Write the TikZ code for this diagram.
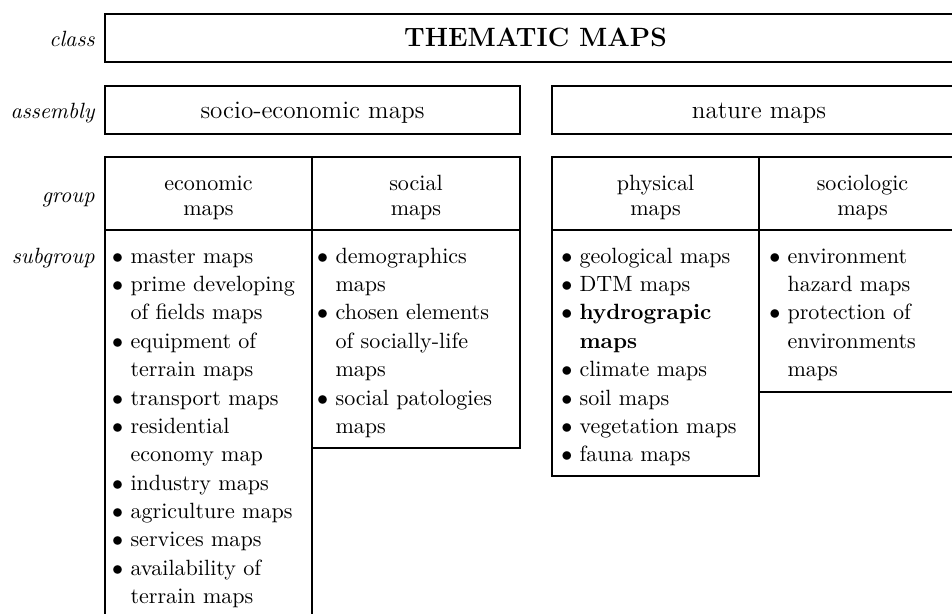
\documentclass[tikz,border=0pt]{standalone}
\usepackage{graphicx}
\tikzset{
  box/.style={draw, line width=0.8pt, rectangle, inner sep=0pt, outer sep=0pt, anchor=north west},
  wh/.style 2 args={minimum width={#1*0.4533pt}, minimum height={#2*0.4533pt}},
  lbl/.style={anchor=base east, inner sep=0pt, font=\itshape},
  ttl/.style={anchor=base, inner sep=0pt, font=\large\bfseries},
  asm/.style={anchor=base, inner sep=0pt, font=\fontsize{11.4}{13}\selectfont},
  grp/.style={anchor=base, inner sep=0pt, font=\fontsize{10}{11.3}\selectfont},
  lst/.style={anchor=base west, inner sep=0pt, font=\fontsize{10}{12.85}\selectfont},
}
\newcommand\glines[1]{\begin{tabular}[t]{@{}c@{}}#1\end{tabular}}
\newcommand\blist[1]{\begin{tabular}[t]{@{}l@{\hspace{3.3pt}}l@{}}#1\end{tabular}}
\newcommand\bu{$\bullet$}
\begin{document}
\begin{tikzpicture}[x=0.4533pt,y=-0.4533pt]
\useasboundingbox (0,0) rectangle (952,614);
\clip (0,0) rectangle (952,614);
% boxes
\node[box, wh={861}{48}] (classbox) at (105,14) {};
\node[box, wh={415}{48}] (socio) at (105,86) {};
\node[box, wh={414}{48}] (nature) at (552,86) {};
\node[box, wh={207}{73}] (econG) at (105,157) {};
\node[box, wh={208}{73}] (socialG) at (312,157) {};
\node[box, wh={207}{73}] (physG) at (552,157) {};
\node[box, wh={207}{73}] (soclG) at (759,157) {};
\node[box, wh={207}{400}] (econL) at (105,230) {};
\node[box, wh={208}{218}] (socialL) at (312,230) {};
\node[box, wh={207}{246}] (physL) at (552,230) {};
\node[box, wh={207}{162}] (soclL) at (759,230) {};
% row labels
\node[lbl] (lclass) at (95,46.5) {class};
\node[lbl] (lasm) at (95,119) {assembly};
\node[lbl] (lgroup) at (95,203) {group};
\node[lbl] (lsub) at (95,263.3) {subgroup};
% texts
\node[ttl] (title) at (535.5,46.5) {THEMATIC MAPS};
\node[asm] (tsocio) at (312.5,119) {socio-economic maps};
\node[asm] (tnature) at (759,119) {nature maps};
\node[grp] (tecon) at (208.5,190.7) {\glines{economic\\maps}};
\node[grp] (tsocial) at (416,190.7) {\glines{social\\maps}};
\node[grp] (tphys) at (655.5,190.7) {\glines{physical\\maps}};
\node[grp] (tsocl) at (862.5,190.7) {\glines{sociologic\\maps}};
\node[lst] (lecon) at (111.8,263.3) {\blist{%
\bu & master maps\\
\bu & prime developing\\
 & of fields maps\\
\bu & equipment of\\
 & terrain maps\\
\bu & transport maps\\
\bu & residential\\
 & economy map\\
\bu & industry maps\\
\bu & agriculture maps\\
\bu & services maps\\
\bu & availability of\\
 & terrain maps}};
\node[lst] (lsocial) at (316.8,263.3) {\blist{%
\bu & demographics\\
 & maps\\
\bu & chosen elements\\
 & of socially-life\\
 & maps\\
\bu & social patologies\\
 & maps}};
\node[lst] (lphys) at (560.8,263.3) {\blist{%
\bu & geological maps\\
\bu & DTM maps\\
\bu & \textbf{hydrograpic}\\
 & \textbf{maps}\\
\bu & climate maps\\
\bu & soil maps\\
\bu & vegetation maps\\
\bu & fauna maps}};
\node[lst] (lsocl) at (768.8,263.3) {\blist{%
\bu & environment\\
 & hazard maps\\
\bu & protection of\\
 & environments\\
 & maps}};
\end{tikzpicture}
\end{document}
